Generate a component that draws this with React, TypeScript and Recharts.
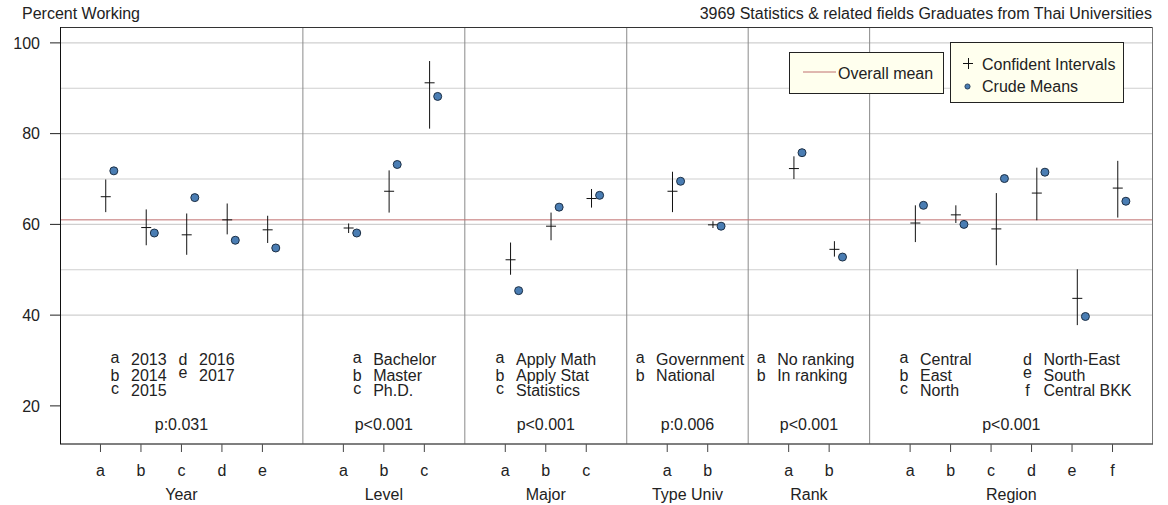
import React from "react";
import { ComposedChart, Scatter, ErrorBar, XAxis, YAxis, ReferenceLine } from "recharts";

const FONT = "'Liberation Sans', Arial, sans-serif";
const INK = "#222";

// factor groups and their tick positions on a shared 0..27 axis
const groups = ["Year", "Level", "Major", "Type Univ", "Rank", "Region"];
const groupCenters = [3, 8, 12, 15.5, 18.5, 23.5];
const separators = [6, 10, 14, 17, 20];
const pValues = ["p:0.031", "p<0.001", "p<0.001", "p:0.006", "p<0.001", "p<0.001"];

const positions = [1, 2, 3, 4, 5, 7, 8, 9, 11, 12, 13, 15, 16, 18, 19, 21, 22, 23, 24, 25, 26];
const letters = ["a", "b", "c", "d", "e", "a", "b", "c", "a", "b", "c", "a", "b", "a", "b", "a", "b", "c", "d", "e", "f"];

// adjusted means with confidence intervals, and crude means (percent working)
const ciMid = [66.1, 59.3, 57.7, 61.0, 58.8, 59.2, 67.3, 91.2, 52.2, 59.6, 65.7, 67.3, 59.9, 72.3, 54.5, 60.3, 62.1, 59.0, 66.9, 43.7, 68.0];
const ciLow = [62.7, 55.4, 53.3, 57.8, 55.9, 58.1, 62.6, 81.1, 48.9, 56.5, 63.7, 62.7, 59.2, 70.0, 52.9, 56.1, 60.3, 51.0, 60.9, 37.8, 61.5];
const ciHigh = [69.9, 63.3, 62.4, 64.6, 61.9, 60.2, 71.9, 96.0, 56.0, 62.6, 67.8, 71.6, 60.7, 75.0, 56.3, 64.2, 64.2, 66.9, 72.5, 50.1, 74.0];
const crudeMeans = [71.8, 58.1, 65.9, 56.5, 54.8, 58.1, 73.2, 88.2, 45.4, 63.8, 66.4, 69.5, 59.6, 75.8, 52.8, 64.2, 60.0, 70.1, 71.5, 39.7, 65.1];

const overallMean = 61;
const gridValues = [40, 50, 60, 70, 80, 90, 100];
const yTicks = [20, 40, 60, 80, 100];

const legendLabels = [
  ["2013", "2014", "2015", "2016", "2017"],
  ["Bachelor", "Master", "Ph.D."],
  ["Apply Math", "Apply Stat", "Statistics"],
  ["Government", "National"],
  ["No ranking", "In ranking"],
  ["Central", "East", "North", "North-East", "South", "Central BKK"],
];
// x of each legend column, in axis units
const legendCols = [[1.36, 3.04], [7.34], [10.87], [14.33], [17.32], [20.85, 23.9]];

const W = 1168;
const H = 505;
const MARGIN = { top: 27, right: 15, bottom: 6, left: 0 };
const Y_AXIS_W = 60;
const X_DOMAIN: [number, number] = [0, 27];
const Y_DOMAIN: [number, number] = [11.6, 103.5];
const PLOT = {
  left: MARGIN.left + Y_AXIS_W,
  top: MARGIN.top,
  width: W - MARGIN.left - Y_AXIS_W - MARGIN.right,
  height: H - MARGIN.top - MARGIN.bottom - 55,
};
const px = (x: number) => PLOT.left + ((x - X_DOMAIN[0]) / (X_DOMAIN[1] - X_DOMAIN[0])) * PLOT.width;

const ciData = positions.map((p, i) => ({
  x: p + 0.13,
  y: ciMid[i],
  err: [ciMid[i] - ciLow[i], ciHigh[i] - ciMid[i]],
}));
const crudeData = positions.map((p, i) => ({ x: p + 0.33, y: crudeMeans[i] }));
const letterAt: Record<number, string> = {};
positions.forEach((p, i) => (letterAt[p] = letters[i]));
const groupAt: Record<number, string> = {};
groupCenters.forEach((c, i) => (groupAt[c] = groups[i]));

const Cross = (props: any) => (
  <line x1={props.cx - 5} x2={props.cx + 5} y1={props.cy} y2={props.cy} stroke="#111" strokeWidth={1} />
);
const Dot = (props: any) => (
  <circle cx={props.cx} cy={props.cy} r={4} fill="#4a7db3" stroke="#1c2f45" strokeWidth={1} />
);

const ROWS = [365, 380.5, 396];
const raise = (l: string) => ("ace".includes(l) ? -2.5 : 0);

function Overlay() {
  const t = { fontFamily: FONT, fontSize: 16, fill: INK };
  const panelTexts: React.ReactNode[] = [];
  legendLabels.forEach((labels, g) => {
    labels.forEach((lab, i) => {
      const col = Math.floor(i / 3);
      const row = i % 3;
      const x = px(legendCols[g][col]);
      const l = String.fromCharCode(97 + i);
      panelTexts.push(
        <text key={`l${g}-${i}`} {...t} x={x} y={ROWS[row] + raise(l)} textAnchor="middle">{l}</text>,
        <text key={`t${g}-${i}`} {...t} x={x + 16} y={ROWS[row]}>{lab}</text>
      );
    });
    panelTexts.push(
      <text key={`p${g}`} {...t} x={px(groupCenters[g])} y={430} textAnchor="middle">{pValues[g]}</text>
    );
  });
  const r = PLOT.left + PLOT.width;
  const b = PLOT.top + PLOT.height;
  return (
    <svg width={W} height={H} style={{ position: "absolute", left: 0, top: 0, pointerEvents: "none" }}>
      <text {...t} x={22} y={19}>Percent Working</text>
      <text {...t} x={1152} y={19} textAnchor="end">3969 Statistics &amp; related fields Graduates from Thai Universities</text>

      <line x1={PLOT.left} x2={r} y1={PLOT.top + 0.5} y2={PLOT.top + 0.5} stroke="#333" />
      <line x1={r - 0.5} x2={r - 0.5} y1={PLOT.top} y2={b} stroke="#777" />
      <line x1={PLOT.left} x2={r} y1={b} y2={b} stroke="#555" strokeWidth={1.6} />
      <line x1={PLOT.left + 0.5} x2={PLOT.left + 0.5} y1={PLOT.top} y2={b} stroke="#111" />

      {panelTexts}

      <rect x={789.5} y={52.5} width={154} height={41} fill="#ffffee" stroke="#222" />
      <line x1={803} x2={836} y1={72} y2={72} stroke="#c07070" />
      <text {...t} x={838} y={79}>Overall mean</text>

      <rect x={950.5} y={42.5} width={173} height={60} fill="#ffffee" stroke="#222" />
      <line x1={963} x2={973} y1={63.5} y2={63.5} stroke="#111" />
      <line x1={968.5} x2={968.5} y1={58} y2={69} stroke="#111" />
      <text {...t} x={982} y={69.5}>Confident Intervals</text>
      <circle cx={967.5} cy={86.5} r={2.6} fill="#4a7db3" stroke="#1c2f45" strokeWidth={0.8} />
      <text {...t} x={982} y={91.5}>Crude Means</text>
    </svg>
  );
}

export default function App() {
  const tick = { fontFamily: FONT, fontSize: 16, fill: INK };
  return (
    <div style={{ position: "relative", width: W, height: H, background: "#fff" }}>
      <style>{`body{margin:0}`}</style>
      <ComposedChart width={W} height={H} margin={MARGIN}>
        <XAxis
          xAxisId={0}
          dataKey="x"
          type="number"
          domain={X_DOMAIN}
          allowDataOverflow
          ticks={positions}
          tickFormatter={(v: number) => letterAt[v] ?? ""}
          interval={0}
          height={30}
          tickSize={8}
          tickMargin={13}
          axisLine={false}
          tickLine={{ stroke: "#444" }}
          tick={tick}
        />
        <XAxis
          xAxisId="g"
          dataKey="x"
          type="number"
          domain={X_DOMAIN}
          allowDataOverflow
          ticks={groupCenters}
          tickFormatter={(v: number) => groupAt[v] ?? ""}
          interval={0}
          height={25}
          tickSize={0}
          tickMargin={15}
          axisLine={false}
          tickLine={false}
          tick={tick}
        />
        <YAxis
          dataKey="y"
          type="number"
          domain={Y_DOMAIN}
          allowDataOverflow
          ticks={yTicks}
          width={Y_AXIS_W}
          tickSize={10}
          tickMargin={10}
          axisLine={false}
          tickLine={{ stroke: "#222" }}
          tick={tick}
        />
        {gridValues.map((v) => (
          <ReferenceLine key={`g${v}`} y={v} stroke="#cfcfcf" strokeWidth={1.2} />
        ))}
        {separators.map((s) => (
          <ReferenceLine key={`s${s}`} x={s} stroke="#8a8a8a" strokeWidth={1} />
        ))}
        <ReferenceLine y={overallMean} stroke="#c07070" strokeWidth={1} />
        <Scatter data={ciData} dataKey="y" shape={Cross} isAnimationActive={false}>
          <ErrorBar dataKey="err" direction="y" width={0} stroke="#111" strokeWidth={1} isAnimationActive={false} />
        </Scatter>
        <Scatter data={crudeData} dataKey="y" shape={Dot} isAnimationActive={false} />
      </ComposedChart>
      <Overlay />
    </div>
  );
}
